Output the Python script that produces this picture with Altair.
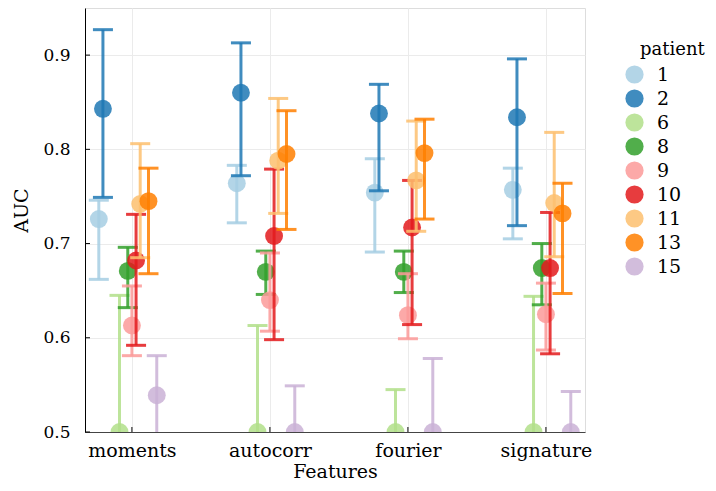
import json
import altair as alt
import pandas as pd

features = ["moments", "autocorr", "fourier", "signature"]
patients = [1, 2, 6, 8, 9, 10, 11, 13, 15]
colors = ["#a6cee3", "#1f78b4", "#b2df8a", "#33a02c", "#fb9a99",
          "#e31a1c", "#fdbf6f", "#ff7f00", "#cab2d6"]

# mean AUC, lower and upper error bounds, in patient order
auc_moments = [0.726, 0.843, 0.500, 0.671, 0.613, 0.682, 0.742, 0.745, 0.539]
lo_moments = [0.662, 0.749, 0.355, 0.632, 0.581, 0.592, 0.685, 0.668, 0.497]
hi_moments = [0.746, 0.927, 0.645, 0.696, 0.655, 0.731, 0.806, 0.780, 0.581]

auc_autocorr = [0.764, 0.860, 0.500, 0.670, 0.640, 0.708, 0.788, 0.795, 0.500]
lo_autocorr = [0.722, 0.772, 0.387, 0.646, 0.607, 0.598, 0.732, 0.715, 0.451]
hi_autocorr = [0.783, 0.913, 0.613, 0.692, 0.690, 0.779, 0.854, 0.841, 0.549]

auc_fourier = [0.754, 0.838, 0.500, 0.670, 0.624, 0.717, 0.767, 0.796, 0.500]
lo_fourier = [0.691, 0.756, 0.455, 0.648, 0.599, 0.614, 0.713, 0.726, 0.422]
hi_fourier = [0.790, 0.869, 0.545, 0.692, 0.668, 0.767, 0.830, 0.832, 0.578]

auc_signature = [0.757, 0.834, 0.500, 0.674, 0.625, 0.674, 0.743, 0.732, 0.500]
lo_signature = [0.705, 0.719, 0.356, 0.635, 0.587, 0.583, 0.686, 0.647, 0.457]
hi_signature = [0.780, 0.896, 0.644, 0.700, 0.658, 0.733, 0.818, 0.764, 0.543]

y_ticks = [0.5, 0.6, 0.7, 0.8, 0.9]

series = [
    (auc_moments, lo_moments, hi_moments),
    (auc_autocorr, lo_autocorr, hi_autocorr),
    (auc_fourier, lo_fourier, hi_fourier),
    (auc_signature, lo_signature, hi_signature),
]
rows = []
for fi, (f, (auc, lo, hi)) in enumerate(zip(features, series)):
    for p, a, l, h in zip(patients, auc, lo, hi):
        rows.append(dict(feature=f, fidx=fi, patient=str(p), pnum=p, auc=a, lo=l, hi=h))
df = pd.DataFrame(rows)
tick_df = pd.DataFrame({"v": y_ticks})
cat_df = pd.DataFrame({"fidx": list(range(len(features)))})

W, H = 500, 424
FONT = "DejaVu Serif"

xscale = alt.Scale(domain=[-0.34, 3.283], nice=False, zero=False)
yscale = alt.Scale(domain=[0.5, 0.95], nice=False, zero=False)

x_axis = alt.Axis(
    values=list(range(len(features))),
    labelExpr=json.dumps(features) + "[datum.value]",
    title="Features", grid=True, gridColor="#ebebeb", ticks=False,
    domainColor="#444444", labelFontSize=19, titleFontSize=19,
    labelFont=FONT, titleFont=FONT, labelColor="black", titleColor="black",
    titleFontWeight="normal", labelPadding=9, titlePadding=2,
)
y_axis = alt.Axis(
    values=y_ticks, format=".1f", title="AUC", grid=True, gridColor="#ebebeb",
    ticks=False, domainColor="black", labelFontSize=17, titleFontSize=19,
    labelFont=FONT, titleFont=FONT, labelColor="black", titleColor="black",
    titleFontWeight="normal", labelPadding=15, titleX=-64, titleY=202,
    titleBaseline="middle", titleAngle=-90,
)

color = alt.Color(
    "patient:N",
    scale=alt.Scale(domain=[str(p) for p in patients], range=colors),
    legend=alt.Legend(
        title="patient", orient="none", legendX=555, legendY=33,
        titleFont=FONT, titleFontSize=18, titleFontWeight="normal",
        titleColor="black", labelFont=FONT, labelFontSize=19, labelColor="black",
        symbolType="circle", symbolSize=330, symbolOpacity=0.85,
        symbolStrokeWidth=0, rowPadding=4, labelOffset=13, titlePadding=6,
        symbolOffset=-15,
        labelExpr="length(datum.label) < 2 ? '\u2007' + datum.label : datum.label",
    ),
)

X = alt.X("xpos:Q", scale=xscale, axis=x_axis)
Y = alt.Y("auc:Q", scale=yscale, axis=y_axis)

base = alt.Chart(df).transform_calculate(
    xpos="datum.fidx + 0.03 * (datum.pnum - 9)",
    xl="datum.xpos - 0.0725",
    xr="datum.xpos + 0.0725",
)

layers = []
for p in patients:
    sub = base.transform_filter(f"datum.pnum == {p}")
    bar = sub.mark_rule(strokeWidth=3, opacity=0.85, clip=True).encode(
        x=X, y=alt.Y("lo:Q", scale=yscale, axis=y_axis), y2="hi:Q", color=color)
    cap_hi = sub.mark_rule(strokeWidth=3, opacity=0.85, clip=True).encode(
        x=alt.X("xl:Q", scale=xscale, axis=x_axis), x2="xr:Q",
        y=alt.Y("hi:Q", scale=yscale, axis=y_axis), color=color)
    cap_lo = sub.mark_rule(strokeWidth=3, opacity=0.85, clip=True).encode(
        x=alt.X("xl:Q", scale=xscale, axis=x_axis), x2="xr:Q",
        y=alt.Y("lo:Q", scale=yscale, axis=y_axis), color=color)
    pt = sub.mark_circle(size=320, opacity=0.85, clip=True).encode(
        x=X, y=Y, color=color)
    layers += [bar, cap_hi, cap_lo, pt]

yticks_layer = alt.Chart(tick_df).mark_rule(color="black", strokeWidth=1).encode(
    x=alt.value(0), x2=alt.value(5), y=alt.Y("v:Q", scale=yscale, axis=y_axis))
xticks_layer = alt.Chart(cat_df).mark_rule(color="black", strokeWidth=1).encode(
    x=alt.X("fidx:Q", scale=xscale, axis=x_axis), y=alt.value(H), y2=alt.value(H - 5))

chart = alt.layer(yticks_layer, xticks_layer, *layers).properties(
    width=W, height=H,
    autosize=alt.AutoSizeParams(type="none"),
    padding={"left": 77, "top": 0, "right": 123, "bottom": 51},
).configure_view(stroke=None).configure(
    background="white", font=FONT
).configure_legend(labelFont=FONT, titleFont=FONT)

chart.save("out.html", embed_options={"renderer": "svg", "actions": False})
